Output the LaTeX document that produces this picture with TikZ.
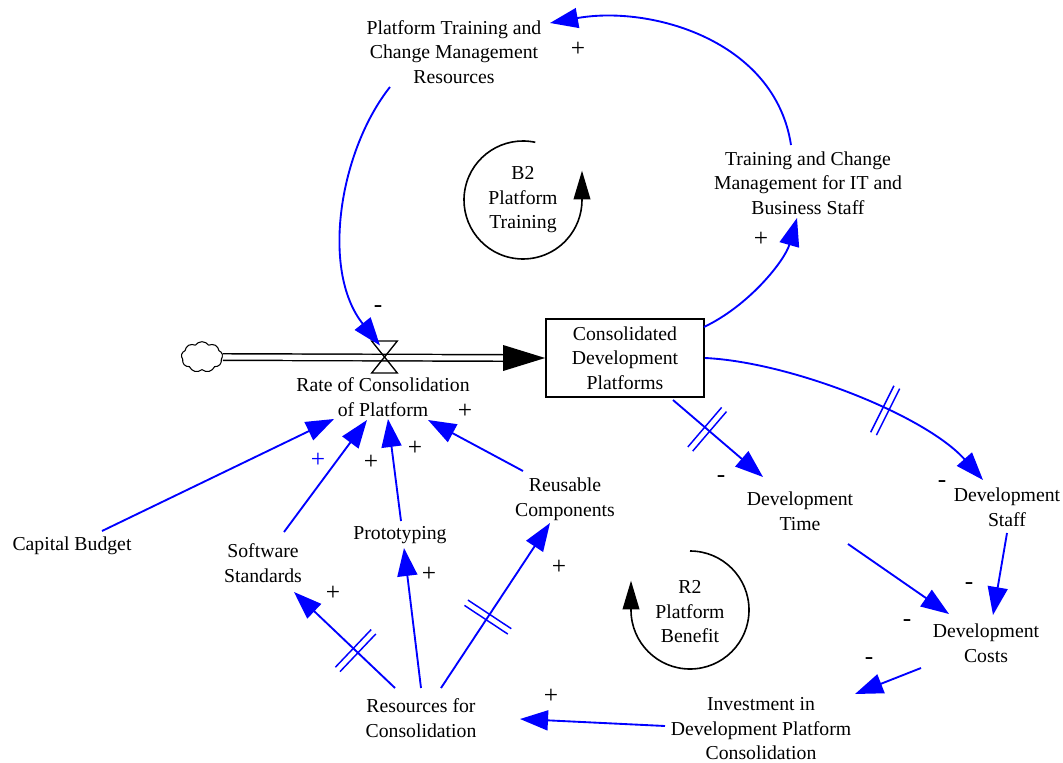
\documentclass[tikz,border=0pt]{standalone}
\usepackage{fontspec}
\setmainfont{Liberation Serif}
\usetikzlibrary{arrows.meta,decorations.markings,shapes.symbols,calc}

\begin{document}
\begin{tikzpicture}[x=0.75pt,y=-0.75pt,
  every node/.style={font=\fontsize{14.8}{18.4}\selectfont},
  var/.style={align=center, inner sep=0pt},
  sign/.style={inner sep=0pt, font=\fontsize{19}{20}\selectfont},
  link/.style={draw=blue, line width=1.4pt, -{Triangle[length=21pt,width=15pt]}},
  delaymark/.style={postaction={decorate}, decoration={markings,
      mark=at position #1 with {\draw[blue, line width=1.1pt, arrows=-]
        (-2.4pt,-19.5pt) -- (-2.4pt,19.5pt) (2.4pt,-19.5pt) -- (2.4pt,19.5pt);}}},
  loopline/.style={line width=1.2pt, -{Triangle[length=21.5pt,width=12.5pt]}},
  pipe/.style={line width=1.1pt, double distance=3.8pt}
]
\useasboundingbox (0,0) rectangle (1063,763);

% stock, flow and source
\node[draw, line width=1.3pt, minimum width=118.5pt, minimum height=58.5pt,
      inner sep=0pt, align=center] (stock) at (625,358)
      {Consolidated\\Development\\Platforms};
\node[cloud, draw, line width=0.8pt, cloud puffs=9, cloud puff arc=110, aspect=1.35,
      minimum width=31pt, minimum height=23pt, inner sep=0pt] (cloud) at (202,357) {};
\node[inner sep=0pt, minimum width=18.75pt, minimum height=23.5pt] (valve) at (384.5,357) {};
\node[var] (rate) at (383,397) {Rate of Consolidation\\of Platform};

\draw[pipe] (cloud.east) -- ([xshift=-31.5pt]stock.west);
\fill ([shift={(-31.5pt,9.75pt)}]stock.west) -- (stock.west)
      -- ([shift={(-31.5pt,-9.75pt)}]stock.west) -- cycle;
\draw[line width=1pt, line join=miter] (valve.north west) -- (valve.north east)
      -- (valve.south west) -- (valve.south east) -- cycle;

% auxiliary variables
\node[var] (ptcm) at (454,52) {Platform Training and\\Change Management\\Resources};
\node[var] (train) at (808,183) {Training and Change\\Management for IT and\\Business Staff};
\node[var] (time) at (800,511) {Development\\Time};
\node[var] (staff) at (1007,507) {Development\\Staff};
\node[var] (cost) at (986,643) {Development\\Costs};
\node[var] (inv) at (761,729) {Investment in\\Development Platform\\Consolidation};
\node[var] (res) at (421,718) {Resources for\\Consolidation};
\node[var] (ss) at (263,563) {Software\\Standards};
\node[var] (proto) at (400,535) {Prototyping};
\node[var] (reuse) at (565,499) {Reusable\\Components};
\node[var] (cb) at (72,546) {Capital Budget};

% loop markers
\node[var] (b2) at (523,200) {B2\\Platform\\Training};
\node[var] (r2) at (690,612) {R2\\Platform\\Benefit};
\coordinate (b2c) at (523,200);
\coordinate (r2c) at (690,610);
\draw[loopline] ([shift={(78:44.25pt)}]b2c) arc[start angle=78, end angle=360, radius=44.25pt] -- ++(0,22pt);
\draw[loopline] ([shift={(90:44.25pt)}]r2c) arc[start angle=90, end angle=-180, radius=44.25pt] -- ++(0,22pt);

% causal links
\draw[link] ([shift={(-64,35)}]ptcm.center) .. controls (340,150) and (320,270) .. ([shift={(-4.5,-11.5)}]valve.center);
\draw[link] ([shift={(-17,-38)}]train.center) .. controls (775,40) and (650,5) .. ([shift={(96,-29)}]ptcm.center);
\draw[link] ([shift={(79,-31)}]stock.center) .. controls (750,305) and (785,260) .. ([shift={(-11,35)}]train.center);
\draw[link, delaymark=0.38] ([shift={(48,42)}]stock.center) -- ([shift={(-37,-34)}]time.center);
\draw[link, delaymark=0.61] ([shift={(80,0)}]stock.center) .. controls (790,362) and (925,415) .. ([shift={(-24,-27)}]staff.center);
\draw[link] ([shift={(48,33)}]time.center) -- ([shift={(-37,-29)}]cost.center);
\draw[link] ([shift={(0,26)}]staff.center) -- ([shift={(7,-28)}]cost.center);
\draw[link] ([shift={(-65,25)}]cost.center) -- ([shift={(94,-35)}]inv.center);
\draw[link] ([shift={(-96,-3)}]inv.center) -- ([shift={(99,1)}]res.center);
\draw[link, delaymark=0.39] ([shift={(-26,-30)}]res.center) -- ([shift={(31,29)}]ss.center);
\draw[link] ([shift={(0,-30)}]res.center) -- ([shift={(4,13)}]proto.center);
\draw[link, delaymark=0.43] ([shift={(20,-30)}]res.center) -- ([shift={(-15,24)}]reuse.center);
\draw[link] ([shift={(30,-15)}]cb.center) -- ([shift={(-49,22)}]rate.center);
\draw[link] ([shift={(21,-31)}]ss.center) -- ([shift={(-16,23)}]rate.center);
\draw[link] ([shift={(1,-14)}]proto.center) -- ([shift={(5,22)}]rate.center);
\draw[link] ([shift={(-42,-28)}]reuse.center) -- ([shift={(45,23)}]rate.center);

% polarity signs
\node[sign] (sg1) at (378,309) {-};
\node[sign] (sg2) at (578,49) {+};
\node[sign] (sg3) at (761,239) {+};
\node[sign] (sg4) at (721,479) {-};
\node[sign] (sg5) at (942,484) {-};
\node[sign] (sg6) at (969,586) {-};
\node[sign] (sg7) at (907,623) {-};
\node[sign] (sg8) at (869,661) {-};
\node[sign] (sg9) at (551,696) {+};
\node[sign] (sg10) at (333,593) {+};
\node[sign] (sg11) at (429,574) {+};
\node[sign] (sg12) at (559,567) {+};
\node[sign, text=blue] (sg13) at (318,460) {+};
\node[sign] (sg14) at (371,462) {+};
\node[sign] (sg15) at (415,448) {+};
\node[sign] (sg16) at (465,411) {+};
\end{tikzpicture}
\end{document}
